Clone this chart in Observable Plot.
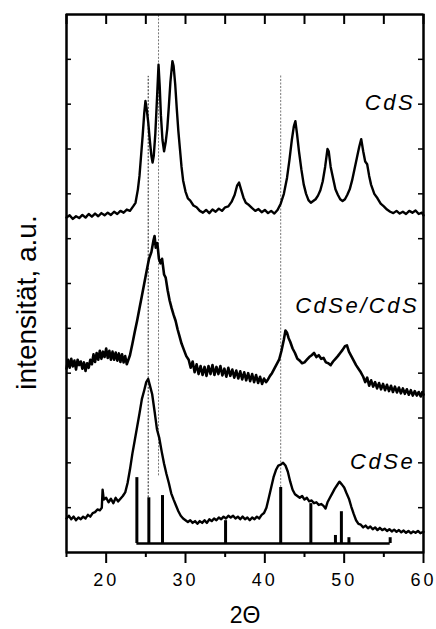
<!DOCTYPE html>
<html>
<head>
<meta charset="utf-8">
<script src="https://cdn.jsdelivr.net/npm/d3@7"></script>
<script src="https://cdn.jsdelivr.net/npm/@observablehq/plot@0.6"></script>
<style>
  html, body { margin: 0; padding: 0; background: #fff; }
  #chart svg { font-family: "Liberation Sans", Arial, sans-serif; }
  #chart g[aria-label="x-axis tick label"] text { letter-spacing: 3px; }
  #chart g.series-label text { letter-spacing: 2.5px; }
</style>
</head>
<body>
<div id="chart"></div>
<script>
// ---- data (2Θ, intensity in a.u.) ----
const cds = [
  [15.0,7.47],[15.4,7.52],[15.8,7.44],[16.2,7.50],[16.6,7.46],[17.0,7.53],[17.4,7.47],[17.8,7.55],[18.2,7.49],[18.6,7.56],
  [19.0,7.50],[19.4,7.57],[19.8,7.52],[20.2,7.58],[20.6,7.53],[21.0,7.60],[21.4,7.55],[21.8,7.62],[22.2,7.58],[22.6,7.65],
  [23.0,7.62],[23.4,7.72],[23.7,7.80],[24.0,8.10],[24.2,8.40],[24.4,8.85],[24.6,9.30],[24.8,9.80],[24.95,10.07],[25.1,9.90],
  [25.3,9.60],[25.5,9.20],[25.7,8.85],[25.85,8.70],[26.0,8.85],[26.2,9.35],[26.4,10.10],[26.6,10.88],[26.75,10.40],[26.9,9.75],
  [27.1,9.20],[27.3,8.95],[27.5,9.15],[27.7,9.45],[27.9,9.95],[28.1,10.50],[28.35,10.96],[28.5,10.85],[28.7,10.45],[28.9,9.90],
  [29.1,9.40],[29.3,9.00],[29.5,8.60],[29.7,8.30],[30.0,8.05],[30.3,7.90],[30.6,7.85],[31.0,7.74],[31.4,7.70],[31.8,7.62],
  [32.2,7.58],[32.6,7.64],[33.0,7.57],[33.4,7.65],[33.8,7.60],[34.2,7.67],[34.6,7.62],[35.0,7.70],[35.4,7.72],[35.8,7.82],
  [36.2,7.98],[36.5,8.18],[36.75,8.25],[37.0,8.10],[37.3,7.92],[37.6,7.80],[38.0,7.75],[38.4,7.68],[38.8,7.62],[39.2,7.66],
  [39.6,7.59],[40.0,7.64],[40.4,7.57],[40.8,7.62],[41.2,7.56],[41.6,7.64],[42.0,7.78],[42.4,8.00],[42.8,8.36],[43.1,8.75],
  [43.4,9.20],[43.65,9.50],[43.85,9.62],[44.05,9.35],[44.3,8.95],[44.6,8.55],[44.9,8.21],[45.2,8.00],[45.5,7.86],[45.8,7.80],
  [46.1,7.84],[46.4,7.88],[46.7,7.96],[47.0,8.08],[47.3,8.28],[47.6,8.60],[47.9,9.00],[48.05,8.95],[48.3,8.60],[48.6,8.35],
  [48.9,8.10],[49.2,7.98],[49.5,7.88],[49.8,7.84],[50.1,7.88],[50.4,7.98],[50.7,8.10],[51.0,8.30],[51.3,8.55],[51.6,8.80],
  [51.9,9.05],[52.15,9.22],[52.4,8.95],[52.65,8.72],[52.9,8.66],[53.15,8.40],[53.4,8.20],[53.8,8.00],[54.2,7.90],[54.6,7.78],
  [55.0,7.72],[55.4,7.65],[55.8,7.60],[56.2,7.57],[56.6,7.62],[57.0,7.56],[57.4,7.60],[57.8,7.55],[58.2,7.62],[58.6,7.58],
  [59.0,7.63],[59.4,7.55],[59.8,7.58],[60.0,7.52]
];
const cdseCds = [
  [15.0,4.10],[15.2,4.30],[15.4,4.12],[15.6,4.32],[15.8,4.15],[16.0,4.28],[16.2,4.08],[16.4,4.30],[16.6,4.18],[16.8,4.26],
  [17.0,4.10],[17.2,4.24],[17.4,4.05],[17.6,4.22],[17.8,4.12],[18.0,4.30],[18.2,4.20],[18.4,4.42],[18.6,4.25],[18.8,4.45],
  [19.0,4.30],[19.2,4.50],[19.4,4.32],[19.6,4.48],[19.8,4.36],[20.0,4.55],[20.2,4.34],[20.4,4.50],[20.6,4.30],[20.8,4.48],
  [21.0,4.30],[21.2,4.46],[21.4,4.28],[21.6,4.44],[21.8,4.25],[22.0,4.42],[22.2,4.24],[22.4,4.38],[22.6,4.20],[22.8,4.30],
  [23.0,4.40],[23.3,4.65],[23.6,4.92],[23.9,5.17],[24.2,5.45],[24.5,5.72],[24.8,6.00],[25.1,6.28],[25.4,6.55],[25.7,6.70],
  [25.95,6.95],[26.1,7.06],[26.25,6.80],[26.45,6.90],[26.65,6.55],[26.85,6.45],[27.05,6.55],[27.3,6.20],[27.5,6.13],[27.75,5.85],
  [28.0,5.62],[28.25,5.45],[28.5,5.30],[28.75,5.17],[29.0,4.98],[29.25,4.82],[29.5,4.66],[29.8,4.52],[30.1,4.38],[30.4,4.30],
  [30.65,4.12],[30.9,4.26],[31.15,4.02],[31.4,4.20],[31.65,3.98],[31.9,4.16],[32.15,3.96],[32.4,4.14],[32.65,3.94],[32.9,4.16],
  [33.15,3.98],[33.4,4.18],[33.65,3.96],[33.9,4.14],[34.15,3.98],[34.4,4.16],[34.65,3.95],[34.9,4.10],[35.15,3.92],[35.4,4.12],
  [35.65,3.94],[35.9,4.08],[36.15,3.90],[36.4,4.06],[36.65,3.88],[36.9,4.04],[37.15,3.86],[37.4,4.02],[37.65,3.84],[37.9,4.00],
  [38.15,3.82],[38.4,3.98],[38.65,3.80],[38.9,3.96],[39.15,3.78],[39.4,3.92],[39.65,3.76],[39.9,3.88],[40.15,3.80],[40.4,3.86],
  [40.65,3.94],[40.9,4.00],[41.2,4.10],[41.5,4.20],[41.8,4.30],[42.1,4.50],[42.4,4.75],[42.6,4.95],[42.8,4.90],[43.0,4.78],
  [43.2,4.70],[43.5,4.55],[43.8,4.45],[44.1,4.32],[44.4,4.28],[44.7,4.22],[45.0,4.24],[45.3,4.30],[45.6,4.36],[45.9,4.40],
  [46.2,4.45],[46.5,4.36],[46.8,4.40],[47.1,4.32],[47.4,4.34],[47.7,4.24],[48.0,4.22],[48.3,4.18],[48.6,4.26],[48.9,4.32],
  [49.2,4.38],[49.5,4.45],[49.8,4.52],[50.1,4.60],[50.35,4.62],[50.6,4.48],[50.9,4.38],[51.2,4.28],[51.5,4.18],[51.8,4.10],
  [52.1,4.02],[52.4,3.92],[52.65,3.80],[52.9,3.90],[53.15,3.72],[53.4,3.84],[53.65,3.70],[53.9,3.80],[54.15,3.66],[54.4,3.78],
  [54.65,3.64],[54.9,3.76],[55.15,3.62],[55.4,3.74],[55.65,3.60],[55.9,3.72],[56.15,3.58],[56.4,3.70],[56.65,3.57],[56.9,3.68],
  [57.15,3.55],[57.4,3.66],[57.65,3.54],[57.9,3.64],[58.15,3.52],[58.4,3.62],[58.65,3.50],[58.9,3.60],[59.15,3.50],[59.4,3.58],
  [59.65,3.48],[59.85,3.58],[60.0,3.52]
];
const cdse = [
  [15.0,0.76],[15.3,0.82],[15.6,0.74],[15.9,0.80],[16.2,0.72],[16.5,0.78],[16.8,0.74],[17.1,0.80],[17.4,0.76],[17.7,0.84],
  [18.0,0.80],[18.3,0.88],[18.6,0.90],[18.9,0.96],[19.2,0.94],[19.45,1.00],[19.55,1.40],[19.7,1.18],[20.0,1.22],[20.3,1.12],
  [20.6,1.20],[20.9,1.10],[21.2,1.22],[21.5,1.14],[21.8,1.20],[22.1,1.26],[22.4,1.34],[22.7,1.55],[23.0,1.85],[23.3,2.20],
  [23.6,2.50],[23.9,2.80],[24.2,3.10],[24.5,3.42],[24.8,3.62],[25.05,3.80],[25.3,3.87],[25.55,3.70],[25.8,3.53],[26.1,3.15],
  [26.4,2.75],[26.7,2.55],[27.0,2.25],[27.3,1.98],[27.6,1.75],[27.9,1.55],[28.2,1.32],[28.5,1.18],[28.8,1.05],[29.1,0.92],
  [29.4,0.82],[29.7,0.76],[30.0,0.72],[30.3,0.68],[30.6,0.72],[30.9,0.66],[31.2,0.70],[31.5,0.64],[31.8,0.70],[32.1,0.66],
  [32.4,0.72],[32.7,0.66],[33.0,0.74],[33.3,0.70],[33.6,0.76],[33.9,0.72],[34.2,0.78],[34.5,0.74],[34.8,0.80],[35.1,0.76],
  [35.4,0.82],[35.7,0.78],[36.0,0.82],[36.3,0.76],[36.6,0.80],[36.9,0.74],[37.2,0.80],[37.5,0.74],[37.8,0.78],[38.1,0.72],
  [38.4,0.78],[38.7,0.74],[39.0,0.80],[39.3,0.76],[39.6,0.84],[39.9,0.88],[40.2,1.00],[40.5,1.22],[40.8,1.45],[41.1,1.68],
  [41.4,1.84],[41.7,1.94],[42.0,1.96],[42.3,2.00],[42.6,1.94],[42.9,1.80],[43.2,1.58],[43.5,1.40],[43.8,1.30],[44.1,1.26],
  [44.4,1.22],[44.7,1.26],[45.0,1.18],[45.3,1.22],[45.6,1.14],[45.9,1.16],[46.2,1.10],[46.5,1.12],[46.8,1.06],[47.1,1.08],
  [47.4,1.04],[47.65,0.98],[47.9,1.12],[48.2,1.22],[48.5,1.32],[48.8,1.42],[49.1,1.50],[49.4,1.58],[49.7,1.52],[50.0,1.45],
  [50.3,1.32],[50.6,1.20],[50.9,1.02],[51.2,0.86],[51.5,0.72],[51.8,0.64],[52.1,0.62],[52.4,0.56],[52.7,0.60],[53.0,0.54],
  [53.3,0.58],[53.6,0.52],[53.9,0.56],[54.2,0.50],[54.5,0.55],[54.8,0.50],[55.1,0.53],[55.4,0.48],[55.7,0.52],[56.0,0.47],
  [56.3,0.51],[56.6,0.46],[56.9,0.50],[57.2,0.45],[57.5,0.49],[57.8,0.44],[58.1,0.48],[58.4,0.43],[58.7,0.47],[59.0,0.44],
  [59.3,0.48],[59.6,0.43],[60.0,0.46]
];

// reference stick pattern (CdSe)
const stickX = [23.87, 25.38, 27.1, 35.05, 42.0, 45.8, 48.9, 49.65, 50.6, 55.8];
const stickH = [1.67, 1.22, 1.27, 0.71, 1.45, 1.09, 0.38, 0.91, 0.33, 0.33];
const stickBase = 0.2;

// guide lines (dashed)
const guideX   = [25.3, 26.6, 42.0];
const guideTop = [10.62, 12, 10.66];
const guideBot = [1.22, 1.71, 1.45];
const guideColor = ["#222", "#777", "#777"];

// series labels
const labelNames = ["CdS", "CdSe/CdS", "CdSe"];
const labelX = [58.95, 59.45, 58.95];
const labelY = [10.02, 5.51, 2.01];

// axes
const xDomain = [15, 60];
const yDomain = [0, 12];
const xMajor = [20, 30, 40, 50, 60];
const xMinor = [15, 25, 35, 45, 55];
const xAll = [15, 20, 25, 30, 35, 40, 45, 50, 55, 60];
const yTicks = [1, 2, 3, 4, 5, 6, 7, 8, 9, 10, 11];
const xLabel = "2\u0398";
const yLabel = "intensität, a.u.";

// ---- build ----
const W = 436, H = 629, mL = 66, mR = 13, mT = 14, mB = 77;
const frameW = W - mL - mR, frameH = H - mT - mB;
const sticks = stickX.map((x, i) => ({x, h: stickH[i]}));
const guides = guideX.map((x, i) => ({x, y1: guideBot[i], y2: guideTop[i], c: guideColor[i]}));
const labels = labelNames.map((name, i) => ({name, x: labelX[i], y: labelY[i]}));
const lineOpts = {x: d => d[0], y: d => d[1], stroke: "#000", strokeWidth: 2.4, strokeLinejoin: "round"};

const chart = Plot.plot({
  width: W,
  height: H,
  marginLeft: mL,
  marginRight: mR,
  marginTop: mT,
  marginBottom: mB,
  x: {domain: xDomain},
  y: {domain: yDomain, axis: null},
  marks: [
    Plot.ruleX(guides, {x: "x", y1: "y1", y2: "y2", stroke: "c", strokeWidth: 1, strokeDasharray: "2,1.5"}),
    Plot.line(cds, lineOpts),
    Plot.line(cdseCds, {...lineOpts, strokeWidth: 2.6}),
    Plot.line(cdse, lineOpts),
    Plot.ruleY([stickBase], {x1: d3.min(stickX), x2: d3.max(stickX), stroke: "#000", strokeWidth: 2.6}),
    Plot.ruleX(sticks, {x: "x", y1: stickBase, y2: "h", stroke: "#000", strokeWidth: 3}),
    Plot.text(labels, {x: "x", y: "y", text: "name", textAnchor: "end", fontSize: 22, fontStyle: "italic", fill: "#000", className: "series-label"}),
    // frame (domain edges)
    Plot.frame({stroke: "#000", strokeWidth: 2}),
    Plot.ruleX(xDomain, {stroke: "#000", strokeWidth: 2}),
    Plot.ruleY(yDomain, {stroke: "#000", strokeWidth: 2}),
    // inward ticks: top, left, right
    Plot.ruleX(xAll, {stroke: "#000", strokeWidth: 2, insetBottom: frameH - 10}),
    Plot.ruleY(yTicks, {stroke: "#000", strokeWidth: 1.5, insetRight: frameW - 5}),
    Plot.ruleY(yTicks, {stroke: "#000", strokeWidth: 1.5, insetLeft: frameW - 5}),
    // bottom outward ticks + labels
    Plot.axisX({anchor: "bottom", ticks: xMajor, tickSize: 11, tickPadding: 10, strokeWidth: 2, fontSize: 18, label: null, tickFormat: d => String(d), color: "#000"}),
    Plot.axisX({anchor: "bottom", ticks: xMinor, tickSize: 5, strokeWidth: 2, label: null, tickFormat: () => ""}),
    Plot.text([xLabel], {frameAnchor: "bottom", dy: 63, fontSize: 23, textAnchor: "middle", lineAnchor: "middle", fill: "#000"}),
    Plot.text([yLabel], {frameAnchor: "left", rotate: -90, dx: -39, dy: 19, fontSize: 28, textAnchor: "middle", lineAnchor: "middle", fill: "#000"})
  ]
});
document.getElementById("chart").appendChild(chart);
</script>
</body>
</html>
